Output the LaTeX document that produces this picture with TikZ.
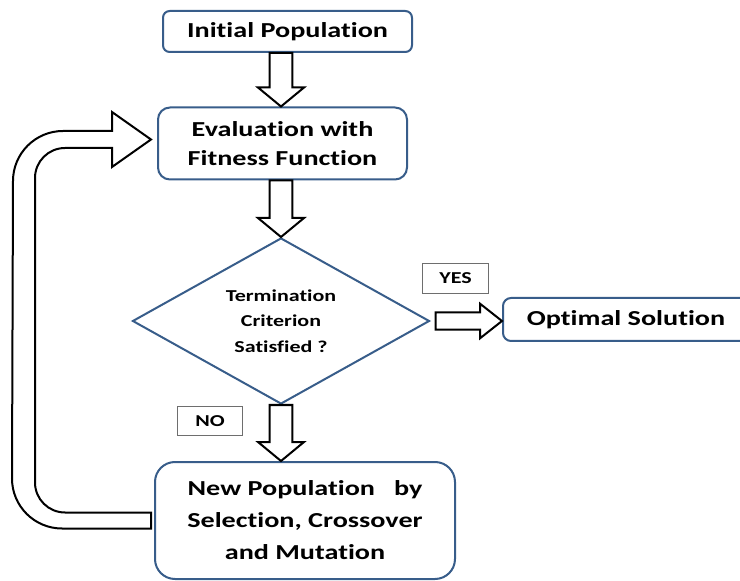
\documentclass[tikz,border=0pt]{standalone}
\usepackage{fontspec}
\setmainfont{Carlito}[FakeStretch=1.32,Ligatures=NoCommon]
\usetikzlibrary{shapes.geometric,calc}

\definecolor{boxblue}{RGB}{56,93,138}
\definecolor{tagGray}{RGB}{110,110,110}

\tikzset{every picture/.style={line width=0.75pt}}
\tikzset{
  stepbox/.style={draw=boxblue, line width=1.5pt, fill=white, align=center, inner sep=0pt,
    font=\bfseries\fontsize{16}{21.75}\selectfont},
  decision/.style={diamond, draw=boxblue, line width=1.5pt, aspect=1.79, inner sep=0pt,
    minimum width=222.75pt, minimum height=124.5pt, align=center,
    font=\bfseries\fontsize{12.5}{19}\selectfont},
  tagbox/.style={draw=tagGray, line width=0.75pt, inner sep=0pt, minimum width=49pt,
    minimum height=22pt, font=\bfseries\fontsize{12.5}{14}\selectfont},
  fatarrow/.style={draw=black, line width=1.5pt, fill=white, line join=miter}
}

% block arrow pointing down, from #1 to #2
\newcommand{\fatdown}[2]{%
  \draw[fatarrow] let \p1=(#1), \p2=(#2) in
    (\x1-8.6pt,\y1) -- (\x1+8.6pt,\y1) -- (\x1+8.6pt,\y2-14.25pt) -- (\x1+17.25pt,\y2-14.25pt)
    -- (\x1,\y2) -- (\x1-17.25pt,\y2-14.25pt) -- (\x1-8.6pt,\y2-14.25pt) -- cycle;}
% block arrow pointing right, from #1 to #2
\newcommand{\fatright}[2]{%
  \draw[fatarrow] let \p1=(#1), \p2=(#2) in
    (\x1,\y1+6.4pt) -- (\x2-16.5pt,\y1+6.4pt) -- (\x2-16.5pt,\y1+13pt) -- (\x2,\y1)
    -- (\x2-16.5pt,\y1-13pt) -- (\x2-16.5pt,\y1-6.4pt) -- (\x1,\y1-6.4pt) -- cycle;}

\begin{document}
\begin{tikzpicture}[x=0.75pt,y=0.75pt,yscale=-1,xscale=1]
\useasboundingbox (0,0) rectangle (740,581);
\clip (0,0) rectangle (740,581);

%Shape: Rounded Rect [id:init]
\node [stepbox, rounded corners=5pt, minimum width=186.75pt, minimum height=30.75pt] (init) at (287.5,31.5) {Initial Population};
%Shape: Rounded Rect [id:eval]
\node [stepbox, rounded corners=9pt, minimum width=186.75pt, minimum height=54pt] (eval) at (282.5,143.5) {Evaluation with\\Fitness Function};
%Shape: Diamond [id:dec]
\node [decision] (dec) at (281,321) {Termination\\Criterion\\Satisfied ?};
%Shape: Rounded Rect [id:opt]
\node [stepbox, rounded corners=6pt, minimum width=184.5pt, minimum height=32.25pt] (opt) at (626,319.5) {Optimal Solution};
%Shape: Rounded Rect [id:newpop]
\node [stepbox, rounded corners=15pt, minimum width=225pt, minimum height=87.75pt,
  font=\bfseries\fontsize{16}{24}\selectfont] (newpop) at (305,520.5) {New Population~~~by\\Selection, Crossover\\and Mutation};

% Text Node
\node [tagbox] (yes) at (455.5,278.5) {YES};
% Text Node
\node [tagbox] (no) at (210,421) {NO};

%Block Arrows
\fatdown{init.south -| dec.north}{eval.north -| dec.north}
\fatdown{eval.south -| dec.north}{dec.north}
\fatdown{dec.south}{newpop.north -| dec.south}
\fatright{$(dec.east)+(5,0)$}{opt.west}

%Bent Arrow [id:loop]
\draw [fatarrow] ($(newpop.west)+(-3,8)$) -- ++(-89,0) arc [start angle=90, end angle=180, radius=50]
  -- (13,181) arc [start angle=180, end angle=270, radius=50]
  -- (112,131) -- (112,112) -- ($(eval.west)+(-6,-4)$) -- (112,167) -- (112,148)
  -- (65,148) arc [start angle=270, end angle=180, radius=30]
  -- (35,482.5) arc [start angle=180, end angle=90, radius=30]
  -- ($(newpop.west)+(-3,-8)$) -- cycle;

\end{tikzpicture}
\end{document}
